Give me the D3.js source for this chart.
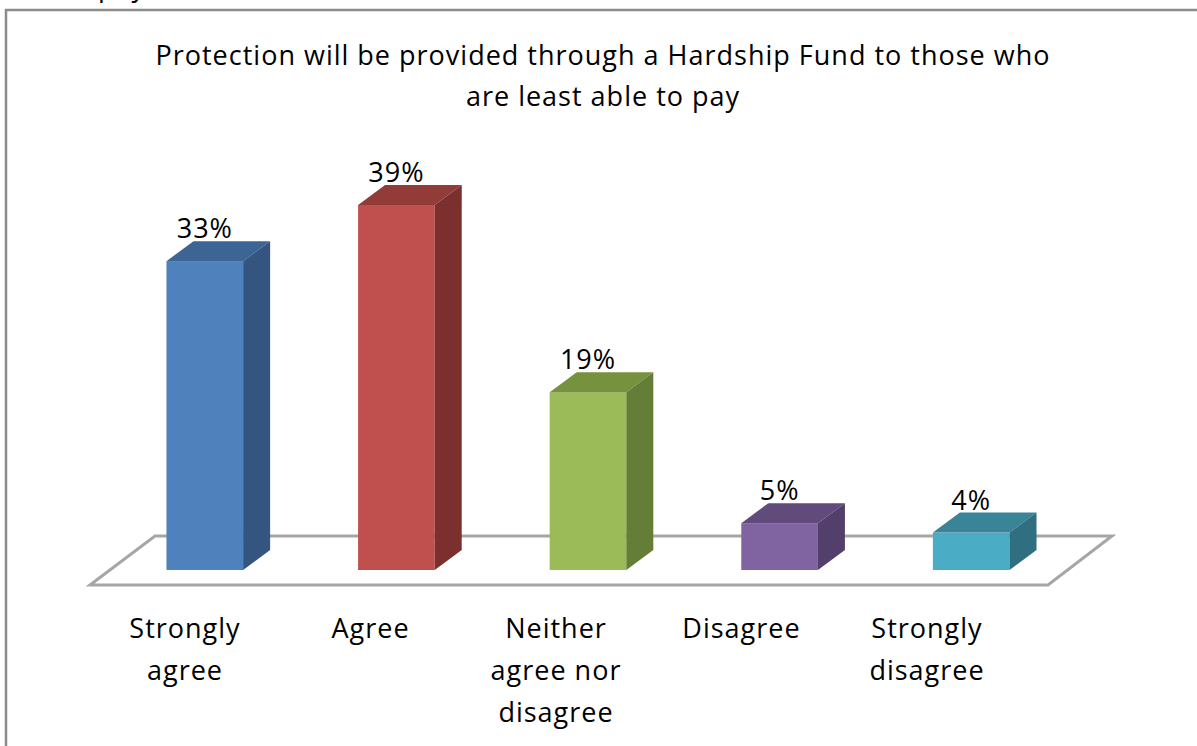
<!DOCTYPE html>
<html>
<head>
<meta charset="utf-8">
<script src="https://cdn.jsdelivr.net/npm/d3@7"></script>
<style>
  html, body { margin: 0; padding: 0; background: #fff; }
  svg { display: block; }
  text { font-family: "Open Sans", "Noto Sans", sans-serif; fill: #000; letter-spacing: 1px; }
</style>
</head>
<body>
<svg id="chart" width="1197" height="746"></svg>
<script>
// Survey responses
const categories = ["Strongly agree", "Agree", "Neither agree nor disagree", "Disagree", "Strongly disagree"];
const labelLines = [["Strongly", "agree"], ["Agree"], ["Neither", "agree nor", "disagree"], ["Disagree"], ["Strongly", "disagree"]];
const values = [33, 39, 19, 5, 4];
const valueLabels = ["33%", "39%", "19%", "5%", "4%"];
const titleLines = ["Protection will be provided through a Hardship Fund to those who", "are least able to pay"];

const faceColors = ["#4F81BD", "#C0504D", "#9BBB59", "#8064A2", "#4BACC6"];
const topColors  = ["#3C6494", "#923C3A", "#77923F", "#614B7C", "#3A8497"];
const sideColors = ["#34557F", "#7B302E", "#657E37", "#533F6B", "#2F6F80"];

const svg = d3.select("#chart");
const FS = 27;

// frame of the chart area
svg.append("rect")
  .attr("x", 6).attr("y", 10).attr("width", 1220).attr("height", 760)
  .attr("fill", "#fff").attr("stroke", "#8c8c8c").attr("stroke-width", 2.5);

// tail of the preceding text line, cut off by the page edge
svg.append("text").attr("x", 98).attr("y", -4).attr("font-size", FS).text("pay");

// title
svg.append("g").selectAll("text").data(titleLines).join("text")
  .attr("x", 603).attr("y", (d, i) => 65 + i * 41)
  .attr("text-anchor", "middle").attr("font-size", FS).text(d => d);

// scales
const x = d3.scaleBand().domain(categories).range([109, 1067]).paddingInner(0.6).paddingOuter(0.3);
const y = d3.scaleLinear().domain([0, 39]).range([570, 205]);
// category labels sit on the front edge of the floor, which is narrower in perspective
const xLabel = d3.scalePoint().domain(categories).range([185, 927]);
const dx = 27, dy = -20;

// floor of the 3-D plot
const floor = [[90, 585], [155, 536], [1112, 536], [1048, 585]];
svg.append("path")
  .attr("d", d3.line()(floor) + "Z")
  .attr("fill", "#fff").attr("stroke", "#a6a6a6").attr("stroke-width", 3)
  .attr("stroke-linejoin", "miter");

const bars = svg.append("g").selectAll("g").data(values).join("g");

// front face
bars.append("rect")
  .attr("x", (d, i) => x(categories[i]))
  .attr("y", d => y(d))
  .attr("width", x.bandwidth())
  .attr("height", d => y(0) - y(d))
  .attr("fill", (d, i) => faceColors[i]);

// top face
bars.append("path")
  .attr("d", (d, i) => {
    const x0 = x(categories[i]), x1 = x0 + x.bandwidth(), t = y(d);
    return d3.line()([[x0, t], [x1, t], [x1 + dx, t + dy], [x0 + dx, t + dy]]) + "Z";
  })
  .attr("fill", (d, i) => topColors[i]);

// right side face
bars.append("path")
  .attr("d", (d, i) => {
    const x1 = x(categories[i]) + x.bandwidth(), t = y(d), b = y(0);
    return d3.line()([[x1, t], [x1 + dx, t + dy], [x1 + dx, b + dy], [x1, b]]) + "Z";
  })
  .attr("fill", (d, i) => sideColors[i]);

// value labels
bars.append("text")
  .attr("x", (d, i) => x(categories[i]) + x.bandwidth() / 2)
  .attr("y", d => y(d) + dy - 3)
  .attr("text-anchor", "middle").attr("font-size", FS)
  .text((d, i) => valueLabels[i]);

// category labels
const cat = svg.append("g").selectAll("text").data(labelLines).join("text")
  .attr("text-anchor", "middle").attr("font-size", FS)
  .attr("x", (d, i) => xLabel(categories[i]))
  .attr("y", 638);
cat.selectAll("tspan").data(d => d).join("tspan")
  .attr("x", function () { return d3.select(this.parentNode).attr("x"); })
  .attr("dy", (d, i) => i === 0 ? 0 : 42)
  .text(d => d);
</script>
</body>
</html>
